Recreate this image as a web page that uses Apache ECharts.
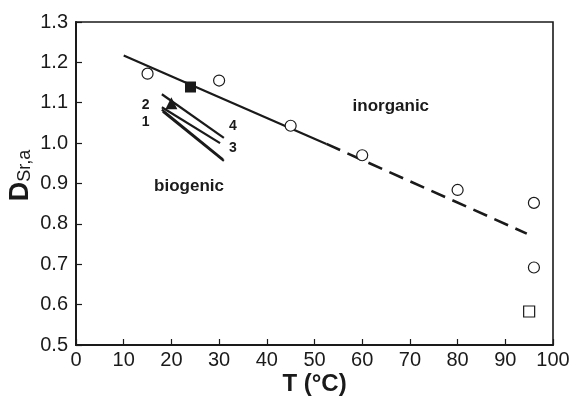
<!DOCTYPE html>
<html>
<head>
<meta charset="utf-8">
<script src="https://cdn.jsdelivr.net/npm/echarts@6/dist/echarts.min.js"></script>
<style>html,body{margin:0;padding:0;background:#fff}#c{width:571px;height:403px}</style>
</head>
<body>
<div id="c"></div>
<script>
// ---- data ----
var openCircles = [[15, 1.172], [30, 1.155], [45, 1.043], [60, 0.970], [80, 0.884], [96, 0.852], [96, 0.692]];
var filledSquare = [[24, 1.139]];
var filledTriangle = [[20, 1.099]];
var openSquare = [[95, 0.583]];
var inorganicSolid = [[10, 1.217], [52.5, 0.998]];
var inorganicDashed = [[52.5, 0.998], [94.5, 0.776]];
var bio1 = [[18, 1.083], [30.8, 0.960]];
var bio2 = [[18, 1.089], [30.2, 1.000]];
var bio3 = [[18.2, 1.078], [31, 0.956]];
var bio4 = [[18, 1.121], [31, 1.013]];
var textLabels = [['inorganic', 66.0, 1.092], ['biogenic', 23.7, 0.894]];
var numLabels = [['1', 14.6, 1.053], ['2', 14.6, 1.094], ['3', 32.9, 0.988], ['4', 32.9, 1.041]];
var xTicks = [0, 100, 10];
var yTicks = [0.5, 1.3, 0.1];

var FONT = 'Liberation Sans, Arial, Helvetica, sans-serif';
var INK = '#1a1a1a';

function lineSeries(d, w, dash) {
  return {
    type: 'line', data: d, symbol: 'none', silent: true, z: 2,
    lineStyle: { color: INK, width: w, type: dash || 'solid', opacity: 1 }
  };
}
function textSeries(arr, size) {
  return {
    type: 'scatter', symbolSize: 0, silent: true, z: 5,
    itemStyle: { opacity: 1 },
    data: arr.map(function (a) { return { value: [a[1], a[2]], name: a[0] }; }),
    label: {
      show: true, position: 'inside', formatter: '{b}',
      fontFamily: FONT, fontWeight: 'bold', fontSize: size, color: INK, opacity: 1
    }
  };
}

var chart = echarts.init(document.getElementById('c'), null, { renderer: 'canvas' });
chart.setOption({
  backgroundColor: '#fff',
  animation: false,
  grid: { left: 76, right: 18, top: 22, bottom: 58, show: true, borderColor: INK, borderWidth: 1.6,
          backgroundColor: 'transparent', containLabel: false, outerBoundsMode: 'none' },
  xAxis: {
    type: 'value', min: xTicks[0], max: xTicks[1], interval: xTicks[2],
    name: 'T (°C)', nameLocation: 'middle', nameGap: 27, nameMoveOverlap: false,
    nameTextStyle: { fontFamily: FONT, fontWeight: 'bold', fontSize: 24, color: INK },
    axisLine: { show: true, lineStyle: { color: INK, width: 2 } },
    axisTick: { show: true, inside: true, length: 6, lineStyle: { color: INK, width: 1.2 } },
    axisLabel: { fontFamily: FONT, fontSize: 20, color: INK, margin: 5 },
    splitLine: { show: false }
  },
  yAxis: {
    type: 'value', min: yTicks[0], max: yTicks[1], interval: yTicks[2],
    name: '{D|D}{s|Sr,a}', nameLocation: 'middle', nameGap: 42, nameRotate: 90, nameMoveOverlap: false,
    nameTextStyle: {
      padding: [0, 0, 0, 16],
      rich: {
        D: { fontFamily: FONT, fontWeight: 'bold', fontSize: 27, color: INK, verticalAlign: 'bottom', lineHeight: 28 },
        s: { fontFamily: FONT, fontSize: 18, color: INK, verticalAlign: 'bottom', lineHeight: 22 }
      }
    },
    axisLine: { show: true, lineStyle: { color: INK, width: 2 } },
    axisTick: { show: true, inside: true, length: 6, lineStyle: { color: INK, width: 1.2 } },
    axisLabel: { fontFamily: FONT, fontSize: 20, color: INK, margin: 8, formatter: function (v) { return v.toFixed(1); } },
    splitLine: { show: false }
  },
  series: [
    lineSeries(inorganicSolid, 2.2),
    lineSeries(inorganicDashed, 2.6, [15, 8]),
    lineSeries(bio1, 2.2),
    lineSeries(bio2, 2.2),
    lineSeries(bio3, 2.2),
    lineSeries(bio4, 2.2),
    { type: 'scatter', data: openCircles, symbol: 'circle', symbolSize: 11, z: 3,
      itemStyle: { color: '#fff', borderColor: INK, borderWidth: 1.2, opacity: 1 } },
    { type: 'scatter', data: filledSquare, symbol: 'rect', symbolSize: 11, z: 3,
      itemStyle: { color: INK, opacity: 1 } },
    { type: 'scatter', data: filledTriangle, symbol: 'triangle', symbolSize: 12, z: 3,
      itemStyle: { color: INK, opacity: 1 } },
    { type: 'scatter', data: openSquare, symbol: 'rect', symbolSize: 11, z: 3,
      itemStyle: { color: '#fff', borderColor: INK, borderWidth: 1.2, opacity: 1 } },
    textSeries(textLabels, 17),
    textSeries(numLabels, 14)
  ]
});
</script>
</body>
</html>
